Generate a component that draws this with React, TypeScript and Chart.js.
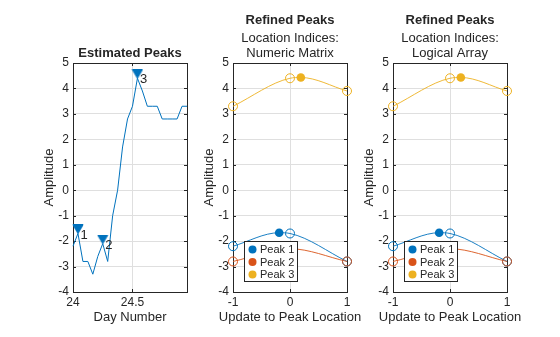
import { useEffect, useRef } from 'react';
import { Chart, registerables } from 'chart.js';

Chart.register(...registerables);

// ---------- data ----------
const START_DAY = 24;
const HOURS_PER_DAY = 24;
const AMPLITUDE = [
  -2.2, -1.7, -2.8, -2.8, -3.3, -2.6, -2.1, -2.8, -1.0, 0.0, 1.7, 2.8,
  3.3, 4.4, 3.9, 3.3, 3.3, 3.3, 2.8, 2.8, 2.8, 2.8, 3.3, 3.3,
];
const PEAK_INDICES = [1, 6, 13];
const PEAK_NAMES = ['1', '2', '3'];
const DAY_TICKS = [24, 24.5];
const DAY_MIN = 24;
const DAY_MAX = 24 + 23 / 24;
const AMP_TICKS = [-4, -3, -2, -1, 0, 1, 2, 3, 4, 5];
const AMP_MIN = -4;
const AMP_MAX = 5;

const UPDATE_TICKS = [-1, 0, 1];
const UPDATE_OFFSETS = [-1, 0, 1];
const PEAK1_NEIGHBORS = [-2.2, -1.7, -2.8];
const PEAK2_NEIGHBORS = [-2.8, -2.3, -2.8];
const PEAK3_NEIGHBORS = [3.3, 4.4, 3.9];
const REFINED_LOCATIONS = [-0.19, 0, 0.19];
const REFINED_VALUES = [-1.67, -2.3, 4.43];
const LEGEND_LABELS = ['Peak 1', 'Peak 2', 'Peak 3'];
const COLORS = ['#0072BD', '#D95319', '#EDB120'];

const TEXT = '#262626';
const GRID = '#dfdfdf';
const FONT = '"Liberation Sans", Arial, Helvetica, sans-serif';

// ---------- layout (pixels) ----------
const W = 560;
const H = 337;
const TOP = 63;
const BOTTOM = 292;
const Y_AXIS_W = 31;
const X_AXIS_H = 33;
const PANELS = [
  { left: 73, right: 187 },
  { left: 233, right: 347 },
  { left: 393, right: 507 },
];

Chart.defaults.font.family = FONT;
Chart.defaults.color = TEXT;

const matlabPlugin = {
  id: 'matlab',
  beforeDatasetsDraw(chart: any) {
    const { ctx, chartArea: a, scales } = chart;
    ctx.save();
    ctx.strokeStyle = TEXT;
    ctx.lineWidth = 1;
    const tl = 3;
    ctx.beginPath();
    scales.x.ticks.forEach((t: any) => {
      const px = Math.round(scales.x.getPixelForValue(t.value)) + 0.5;
      ctx.moveTo(px, a.bottom);
      ctx.lineTo(px, a.bottom - tl);
      ctx.moveTo(px, a.top);
      ctx.lineTo(px, a.top + tl);
    });
    scales.y.ticks.forEach((t: any) => {
      const py = Math.round(scales.y.getPixelForValue(t.value)) + 0.5;
      ctx.moveTo(a.left, py);
      ctx.lineTo(a.left + tl, py);
      ctx.moveTo(a.right, py);
      ctx.lineTo(a.right - tl, py);
    });
    ctx.stroke();
    ctx.strokeRect(a.left + 0.5, a.top + 0.5, a.right - a.left, a.bottom - a.top);
    ctx.restore();
  },
  afterDraw(chart: any, _args: any, opts: any) {
    const { ctx, chartArea: a } = chart;
    ctx.save();
    // titles
    ctx.fillStyle = TEXT;
    ctx.textAlign = 'center';
    ctx.textBaseline = 'middle';
    const cx = (a.left + a.right) / 2;
    (opts.titles || []).forEach((t: any) => {
      ctx.font = `${t.bold ? 'bold ' : ''}13px ${FONT}`;
      ctx.fillText(t.text, cx, t.y);
    });
    if (opts.xTitle) {
      ctx.font = `13px ${FONT}`;
      ctx.fillText(opts.xTitle, cx, a.bottom + 25.5);
    }

    // peak labels
    if (opts.peakLabels) {
      const meta = chart.getDatasetMeta(opts.peakLabels.datasetIndex);
      ctx.font = `13px ${FONT}`;
      ctx.textAlign = 'left';
      meta.data.forEach((el: any, i: number) => {
        ctx.fillText(opts.peakLabels.labels[i], el.x + 2.5, el.y + 1.5);
      });
    }

    // legend
    if (opts.legend) {
      const items = chart.data.datasets.filter((d: any) => d.legendEntry);
      const bx = a.left + 11.5;
      const by = a.bottom - 50.5;
      const bw = 53;
      const bh = 40;
      ctx.fillStyle = '#ffffff';
      ctx.fillRect(bx, by, bw, bh);
      ctx.strokeStyle = TEXT;
      ctx.lineWidth = 1;
      ctx.strokeRect(bx, by, bw, bh);
      ctx.font = `11px ${FONT}`;
      ctx.textAlign = 'left';
      ctx.textBaseline = 'middle';
      items.forEach((d: any, i: number) => {
        const ry = by + 8 + i * 12.5;
        ctx.fillStyle = d.backgroundColor;
        ctx.beginPath();
        ctx.arc(bx + 8, ry, 4, 0, Math.PI * 2);
        ctx.fill();
        ctx.fillStyle = TEXT;
        ctx.fillText(d.label, bx + 15.5, ry + 0.5);
      });
    }
    ctx.restore();
  },
};

function scalesFor(xMin: number, xMax: number, xTicks: number[]) {
  return {
    x: {
      type: 'linear',
      min: xMin,
      max: xMax,
      afterBuildTicks: (s: any) => {
        s.ticks = xTicks.map((v) => ({ value: v }));
      },
      afterFit: (s: any) => {
        s.height = X_AXIS_H;
      },
      grid: { color: GRID, lineWidth: 1, drawTicks: false },
      border: { display: false },
      ticks: {
        padding: 3,
        color: TEXT,
        font: { size: 12 },
        maxRotation: 0,
        autoSkip: false,
        callback: (v: any) => String(v),
      },
      title: { display: false },
    },
    y: {
      type: 'linear',
      min: AMP_MIN,
      max: AMP_MAX,
      afterBuildTicks: (s: any) => {
        s.ticks = AMP_TICKS.map((v) => ({ value: v }));
      },
      afterFit: (s: any) => {
        s.width = Y_AXIS_W;
      },
      grid: { color: GRID, lineWidth: 1, drawTicks: false },
      border: { display: false },
      ticks: {
        padding: 4,
        color: TEXT,
        font: { size: 12 },
        autoSkip: false,
        callback: (v: any) => String(v),
      },
      title: { display: true, text: 'Amplitude', color: TEXT, font: { size: 13 }, padding: 0 },
    },
  };
}

function padFor(p: { left: number; right: number }) {
  return {
    left: p.left - Y_AXIS_W,
    right: W - p.right,
    top: TOP,
    bottom: H - BOTTOM - X_AXIS_H,
  };
}

function triangleImage(color: string) {
  const c = document.createElement('canvas');
  c.width = 12;
  c.height = 18;
  const g = c.getContext('2d')!;
  g.fillStyle = color;
  g.strokeStyle = color;
  g.lineWidth = 1;
  g.beginPath();
  g.moveTo(1, 0.5);
  g.lineTo(11, 0.5);
  g.lineTo(6, 9);
  g.closePath();
  g.fill();
  g.stroke();
  return c;
}

// later datasets are painted on top (as in MATLAB's plotting order)
function stackOrder(datasets: any[]) {
  return datasets.map((d, i) => ({ ...d, order: datasets.length - i }));
}

function estimatedConfig(): any {
  const series = AMPLITUDE.map((y, i) => ({ x: START_DAY + i / HOURS_PER_DAY, y }));
  const peaks = PEAK_INDICES.map((i) => series[i]);
  return {
    type: 'line',
    data: {
      datasets: stackOrder([
        {
          data: series,
          borderColor: COLORS[0],
          borderWidth: 1,
          pointRadius: 0,
          tension: 0,
          clip: false,
        },
        {
          data: peaks,
          showLine: false,
          pointStyle: triangleImage(COLORS[0]),
          pointRadius: 5,
          clip: false,
        },
      ]),
    },
    options: {
      responsive: false,
      animation: false,
      devicePixelRatio: 1,
      layout: { padding: padFor(PANELS[0]) },
      scales: scalesFor(DAY_MIN, DAY_MAX, DAY_TICKS),
      plugins: {
        legend: { display: false },
        tooltip: { enabled: false },
        matlab: {
          titles: [{ text: 'Estimated Peaks', bold: true, y: 53.5 }],
          xTitle: 'Day Number',
          peakLabels: { datasetIndex: 1, labels: PEAK_NAMES },
        },
      },
    },
    plugins: [matlabPlugin],
  };
}

function refinedConfig(panel: number, subtitle: string): any {
  const neighbors = [PEAK1_NEIGHBORS, PEAK2_NEIGHBORS, PEAK3_NEIGHBORS];
  const curves: any[] = [];
  const circles: any[] = [];
  const dots: any[] = [];
  neighbors.forEach((vals, k) => {
    const pts = UPDATE_OFFSETS.map((x, j) => ({ x, y: vals[j] }));
    const withPeak = [...pts, { x: REFINED_LOCATIONS[k], y: REFINED_VALUES[k] }]
      .sort((p, q) => p.x - q.x)
      .filter((p, j, arr) => j === 0 || Math.abs(p.x - arr[j - 1].x) > 1e-9);
    curves.push({
      data: withPeak,
      borderColor: COLORS[k],
      borderWidth: 0.9,
      pointRadius: 0,
      cubicInterpolationMode: 'monotone',
      clip: false,
    });
    circles.push({
      data: pts,
      showLine: false,
      borderColor: COLORS[k],
      backgroundColor: 'rgba(0,0,0,0)',
      pointStyle: 'circle',
      pointRadius: 4.5,
      pointBorderWidth: 1,
      pointBorderColor: COLORS[k],
      pointBackgroundColor: 'rgba(0,0,0,0)',
      clip: false,
    });
    dots.push({
      label: LEGEND_LABELS[k],
      legendEntry: true,
      data: [{ x: REFINED_LOCATIONS[k], y: REFINED_VALUES[k] }],
      showLine: false,
      borderColor: COLORS[k],
      pointStyle: 'circle',
      pointRadius: 4.3,
      pointBorderWidth: 0,
      backgroundColor: COLORS[k],
      pointBackgroundColor: COLORS[k],
      clip: false,
    });
  });
  return {
    type: 'line',
    data: { datasets: stackOrder([...curves, ...circles, ...dots]) },
    options: {
      responsive: false,
      animation: false,
      devicePixelRatio: 1,
      layout: { padding: padFor(PANELS[panel]) },
      scales: scalesFor(-1, 1, UPDATE_TICKS),
      plugins: {
        legend: { display: false },
        tooltip: { enabled: false },
        matlab: {
          titles: [
            { text: 'Refined Peaks', bold: true, y: 20.5 },
            { text: 'Location Indices:', bold: false, y: 38.5 },
            { text: subtitle, bold: false, y: 53.5 },
          ],
          xTitle: 'Update to Peak Location',
          legend: true,
        },
      },
    },
    plugins: [matlabPlugin],
  };
}

export default function App() {
  const r1 = useRef<HTMLCanvasElement>(null);
  const r2 = useRef<HTMLCanvasElement>(null);
  const r3 = useRef<HTMLCanvasElement>(null);

  useEffect(() => {
    const charts = [
      new Chart(r1.current!, estimatedConfig()),
      new Chart(r2.current!, refinedConfig(1, 'Numeric Matrix')),
      new Chart(r3.current!, refinedConfig(2, 'Logical Array')),
    ];
    return () => charts.forEach((c) => c.destroy());
  }, []);

  const cs: any = { position: 'absolute', left: 0, top: 0, width: W, height: H };
  return (
    <div style={{ position: 'fixed', left: 0, top: 0, width: W, height: H, background: '#fff' }}>
      <canvas ref={r1} width={W} height={H} style={cs} />
      <canvas ref={r2} width={W} height={H} style={cs} />
      <canvas ref={r3} width={W} height={H} style={cs} />
    </div>
  );
}
